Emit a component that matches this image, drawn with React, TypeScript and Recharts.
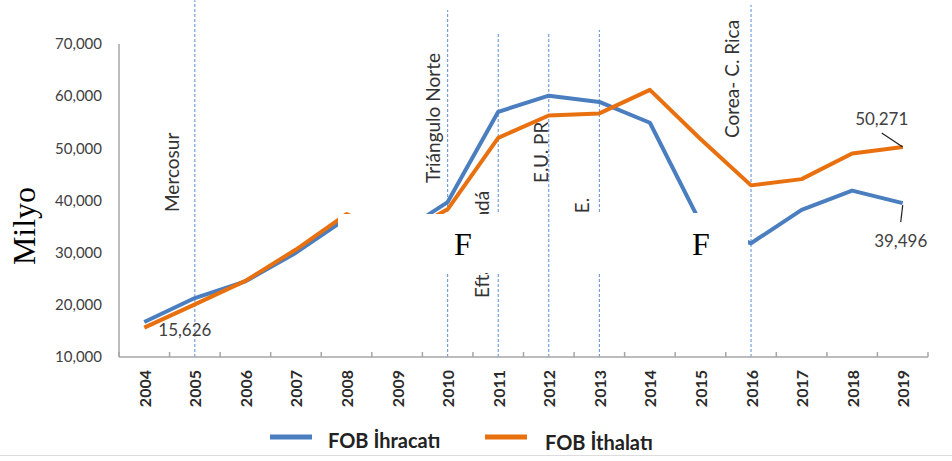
import React from 'react';
import { LineChart, Line, XAxis, YAxis, ReferenceLine } from 'recharts';

const years = ['2004', '2005', '2006', '2007', '2008', '2009', '2010', '2011', '2012', '2013', '2014', '2015', '2016', '2017', '2018', '2019'];
const exportsFob = [16700, 21300, 24500, 30000, 36600, 33400, 39700, 57000, 60100, 58900, 54900, 35700, 31800, 38200, 41900, 39496];
const importsFob = [15626, 20100, 24600, 30600, 37400, 32900, 38300, 52000, 56300, 56700, 61200, 51800, 42900, 44100, 49000, 50271];
const yTicks = [10000, 20000, 30000, 40000, 50000, 60000, 70000];
const agreementYears = ['2005', '2010', '2011', '2012', '2013', '2016'];
const agreementLabels = ['Mercosur', 'Triángulo Norte', 'Efta- Canadá', 'E.U. PR', '. . E.', 'Corea- C. Rica'];
const agreementTops = [78400, 76500, 72100, 72300, 72700, 77500];
const seriesNames = ['FOB İhracatı', 'FOB İthalatı'];

const data = years.map((year, i) => ({ year, exp: exportsFob[i], imp: importsFob[i] }));

// label placement (px): offset left of line, bottom of rotated text
const labelStyle = [
  { dx: -23, bottom: 212 },
  { dx: -15, bottom: 183 },
  { dx: -17, bottom: 298 },
  { dx: -8, bottom: 183 },
  { dx: -18, bottom: 232 },
  { dx: -20, bottom: 138 },
];

const BLUE = '#4a7ebf';
const ORANGE = '#e8700f';
const DOT = '#5b8dd6';
const TXT = '#404040';
const AXIS = '#a6a6a6';
const FONT = 'Lato, "Open Sans", sans-serif';
const TICK_GAP = 13;

const fmt = (v: number) => v.toLocaleString('en-US');

const XTick = (props: any) => {
  const { x, y, payload, index, width, visibleTicksCount } = props;
  const step = (width || 808) / (visibleTicksCount || years.length);
  const ay = y - TICK_GAP;
  const last = index === (visibleTicksCount || years.length) - 1;
  return (
    <g>
      <line x1={x - step / 2} y1={ay} x2={x - step / 2} y2={ay - 5} stroke={AXIS} strokeWidth={1.5} />
      {last && <line x1={x + step / 2} y1={ay} x2={x + step / 2} y2={ay - 5} stroke={AXIS} strokeWidth={1.5} />}
      <text x={x} y={y} transform={`rotate(-90 ${x} ${y})`} textAnchor="end" dominantBaseline="central"
        fontFamily={FONT} fontWeight={700} fontSize={16} fill="#2b2b2b">{payload.value}</text>
    </g>
  );
};

const impLabel = (props: any) => {
  const { x, y, index, value } = props;
  if (index === 0) {
    return <text x={x + 14} y={y + 2} dominantBaseline="central" fontFamily={FONT} fontSize={17} fill={TXT}>{fmt(value)}</text>;
  }
  if (index === importsFob.length - 1) {
    return (
      <g>
        <line x1={x - 21} y1={y - 14} x2={x} y2={y} stroke="#222" strokeWidth={1.2} />
        <text x={x - 21} y={y - 28} textAnchor="middle" dominantBaseline="central" fontFamily={FONT} fontSize={17} fill={TXT}>{fmt(value)}</text>
      </g>
    );
  }
  return <g />;
};

const expLabel = (props: any) => {
  const { x, y, index, value } = props;
  if (index === exportsFob.length - 1) {
    return (
      <g>
        <line x1={x} y1={y + 2} x2={x - 2} y2={y + 19} stroke="#222" strokeWidth={1.2} />
        <text x={x - 2} y={y + 37} textAnchor="middle" dominantBaseline="central" fontFamily={FONT} fontSize={17} fill={TXT}>{fmt(value)}</text>
      </g>
    );
  }
  return <g />;
};

export default function App() {
  return (
    <div style={{ position: 'absolute', left: 0, top: 0, width: 952, height: 461, background: '#fff' }}>
      <LineChart width={952} height={461} data={data} margin={{ top: 44, right: 24, bottom: 44, left: 0 }}>
        <XAxis dataKey="year" scale="band" interval={0} height={60} tickLine={false} tickSize={0} tickMargin={TICK_GAP}
          axisLine={{ stroke: AXIS, strokeWidth: 1.5 }} tick={<XTick />} />
        <YAxis width={119} domain={[10000, 70000]} ticks={yTicks} tickFormatter={fmt} tickLine={false}
          tickSize={0} tickMargin={17} axisLine={{ stroke: AXIS, strokeWidth: 1.5 }}
          tick={{ fontFamily: FONT, fontSize: 15, fill: TXT }} />
        {agreementYears.map((yr, i) => (
          <ReferenceLine key={yr} ifOverflow="visible" stroke={DOT} strokeWidth={1} strokeDasharray="3 2"
            segment={[{ x: yr, y: 10000 }, { x: yr, y: agreementTops[i] }]}
            label={(p: any) => {
              const vb = p.viewBox || {};
              const lx = (vb.x ?? 0) + labelStyle[i].dx;
              const ly = labelStyle[i].bottom;
              return (
                <text x={lx} y={ly} transform={`rotate(-90 ${lx} ${ly})`} textAnchor="start" dominantBaseline="central"
                  fontFamily={FONT} fontSize={19} fill="#333">{agreementLabels[i]}</text>
              );
            }} />
        ))}
        <Line dataKey="exp" name={seriesNames[0]} stroke={BLUE} strokeWidth={4} dot={false} strokeLinejoin="round"
          isAnimationActive={false} label={expLabel} />
        <Line dataKey="imp" name={seriesNames[1]} stroke={ORANGE} strokeWidth={4} dot={false} strokeLinejoin="round"
          isAnimationActive={false} label={impLabel} />
      </LineChart>
      <svg width={952} height={461} style={{ position: 'absolute', left: 0, top: 0, pointerEvents: 'none' }}>
        <rect x={338} y={214} width={209} height={59} fill="#fff" />
        <rect x={586} y={213} width={162} height={59} fill="#fff" />
        <text x={454} y={255} fontFamily='"Liberation Serif", serif' fontSize={32} fill="#000">F</text>
        <text x={692} y={255} fontFamily='"Liberation Serif", serif' fontSize={32} fill="#000">F</text>
        <text x={35} y={226} transform="rotate(-90 35 226)" textAnchor="middle" fontFamily='"Liberation Serif", serif' fontSize={32} fill="#000">Milyo</text>
        <line x1={0} y1={455.5} x2={952} y2={455.5} stroke="#dcdcdc" strokeWidth={1} />
        <line x1={270} y1={437} x2={312} y2={437} stroke={BLUE} strokeWidth={5} />
        <text x={328} y={440} dominantBaseline="central" fontFamily={FONT} fontWeight={700} fontSize={20} fill="#222">{seriesNames[0]}</text>
        <line x1={485} y1={437} x2={527} y2={437} stroke={ORANGE} strokeWidth={5} />
        <text x={545} y={442} dominantBaseline="central" fontFamily={FONT} fontWeight={700} fontSize={20} fill="#222">{seriesNames[1]}</text>
      </svg>
    </div>
  );
}
